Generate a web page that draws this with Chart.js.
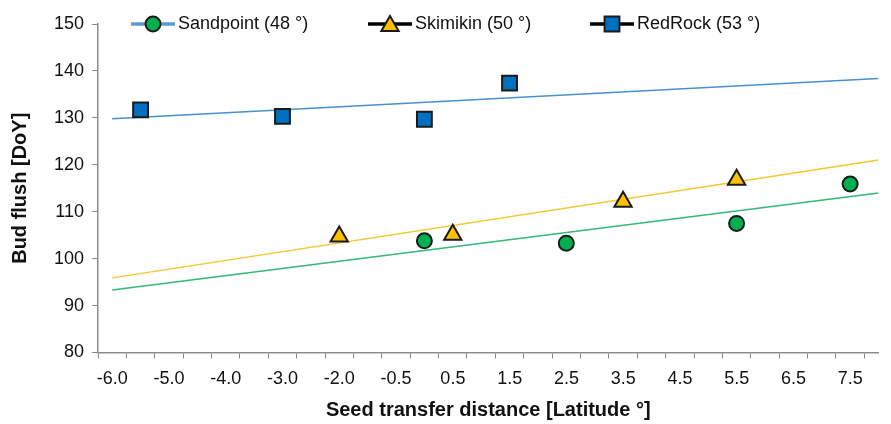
<!DOCTYPE html>
<html>
<head>
<meta charset="utf-8">
<script src="https://cdn.jsdelivr.net/npm/chart.js@4.4.1/dist/chart.umd.min.js"></script>
<style>
    html, body { margin: 0; padding: 0; background: #fff; }
    #wrap { width: 891px; height: 424px; }
</style>
</head>
<body>
<div id="wrap"><canvas id="chart" width="891" height="424"></canvas></div>
<script>
const sandX = [-0.5, 2.0, 5.0, 7.0];
const sandY = [103.8, 103.3, 107.5, 115.9];
const skimX = [-2.0, 0.0, 3.0, 5.0];
const skimY = [104.7, 105.1, 112.1, 116.8];
const redX = [-5.5, -3.0, -0.5, 1.0];
const redY = [131.7, 130.3, 129.7, 137.4];

const trendX = [-6.0, 7.5];
const sandTrend = [93.3, 114.0];
const skimTrend = [95.9, 121.0];
const redTrend = [129.8, 138.4];

const xTickLabels = ['-6.0', '-5.0', '-4.0', '-3.0', '-2.0', '-0.5', '0.5',
    '1.5', '2.5', '3.5', '4.5', '5.5', '6.5', '7.5'];
const yMin = 80, yMax = 150, yStep = 10;
const xMin = -6.25, xMax = 7.5, xTickStep = 0.5;

const seriesNames = ['Sandpoint (48 °)', 'Skimikin (50 °)', 'RedRock (53 °)'];

const FONT = "'Liberation Sans', Arial, sans-serif";
const TEXT = '#111111';
const AXIS = '#8c8c8c';

function pts(xs, ys) {
    return xs.map((x, i) => ({ x: x, y: ys[i] }));
}

// Legenda com linha + marcador, como no Excel
const legendPlugin = {
    id: 'excelLegend',
    afterDraw(chart) {
        const ctx = chart.ctx;
        const items = [
            { x: 131, line: '#5b9bd5', style: 'circle', fill: '#00b050', r: 7.5 },
            { x: 368, line: '#000000', style: 'triangle', fill: '#ffc000', r: 10 },
            { x: 590, line: '#000000', style: 'rect', fill: '#0070c0', r: 10.5 }
        ];
        const y = 24;
        ctx.save();
        items.forEach((it, i) => {
            ctx.strokeStyle = it.line;
            ctx.lineWidth = 3.5;
            ctx.beginPath();
            ctx.moveTo(it.x, y);
            ctx.lineTo(it.x + 44, y);
            ctx.stroke();
            ctx.fillStyle = it.fill;
            ctx.strokeStyle = '#1a1a1a';
            ctx.lineWidth = 2;
            Chart.helpers.drawPoint(ctx, { pointStyle: it.style, radius: it.r, rotation: 0, borderWidth: 2 },
                it.x + 22, it.style === 'triangle' ? y + 2 : y);
            ctx.fillStyle = TEXT;
            ctx.font = '18px ' + FONT;
            ctx.textBaseline = 'middle';
            ctx.textAlign = 'left';
            ctx.fillText(seriesNames[i], it.x + 47, y);
        });
        ctx.restore();
    }
};

const markerBase = { showLine: false, pointBorderColor: '#1a1a1a', pointBorderWidth: 2, order: 0 };
const trendBase = { showLine: true, pointRadius: 0, borderWidth: 1.5, order: 1 };

new Chart(document.getElementById('chart').getContext('2d'), {
    type: 'scatter',
    data: {
        datasets: [
            { ...trendBase, data: pts(trendX, sandTrend), borderColor: '#35b779' },
            { ...trendBase, data: pts(trendX, skimTrend), borderColor: '#f7c52d' },
            { ...trendBase, data: pts(trendX, redTrend), borderColor: '#4a90d0' },
            { ...markerBase, label: seriesNames[0], data: pts(sandX, sandY),
              pointStyle: 'circle', pointRadius: 7.5, pointBackgroundColor: '#00b050' },
            { ...markerBase, label: seriesNames[1], data: pts(skimX, skimY),
              pointStyle: 'triangle', pointRadius: 10, pointBackgroundColor: '#ffc000' },
            { ...markerBase, label: seriesNames[2], data: pts(redX, redY),
              pointStyle: 'rect', pointRadius: 10.5, pointBackgroundColor: '#0070c0' }
        ]
    },
    options: {
        responsive: false,
        animation: false,
        layout: { padding: { top: 24, right: 7, left: 0, bottom: 0 } },
        plugins: {
            legend: { display: false },
            tooltip: { enabled: false }
        },
        scales: {
            x: {
                type: 'linear',
                min: xMin,
                max: xMax,
                afterBuildTicks: scale => {
                    const t = [];
                    for (let v = xMin; v < xMax - 1e-6; v += xTickStep) t.push({ value: v });
                    scale.ticks = t;
                },
                afterFit: scale => { scale.height = 71.5; },
                ticks: {
                    autoSkip: false,
                    maxRotation: 0,
                    padding: 10,
                    labelOffset: 14.3,
                    color: TEXT,
                    font: { family: FONT, size: 18 },
                    callback: (v, i) => (i % 2 === 0 ? xTickLabels[i / 2] : '')
                },
                grid: { drawOnChartArea: false, drawTicks: true, tickLength: 6, color: AXIS },
                border: { display: true, color: AXIS, width: 1.5 },
                title: {
                    display: true,
                    text: 'Seed transfer distance [Latitude °]',
                    color: TEXT,
                    font: { family: FONT, size: 20, weight: 'bold' },
                    padding: { top: 0, bottom: 2 }
                }
            },
            y: {
                min: yMin,
                max: yMax,
                afterFit: scale => { scale.width = 98; },
                ticks: {
                    stepSize: yStep,
                    padding: 8,
                    color: TEXT,
                    font: { family: FONT, size: 18 }
                },
                grid: { drawOnChartArea: false, drawTicks: true, tickLength: 6, color: AXIS },
                border: { display: true, color: AXIS, width: 1.5 },
                title: {
                    display: true,
                    text: 'Bud flush [DoY]',
                    color: TEXT,
                    font: { family: FONT, size: 20, weight: 'bold' },
                    padding: { top: 8, bottom: 0 }
                }
            }
        }
    },
    plugins: [legendPlugin]
});
</script>
</body>
</html>
